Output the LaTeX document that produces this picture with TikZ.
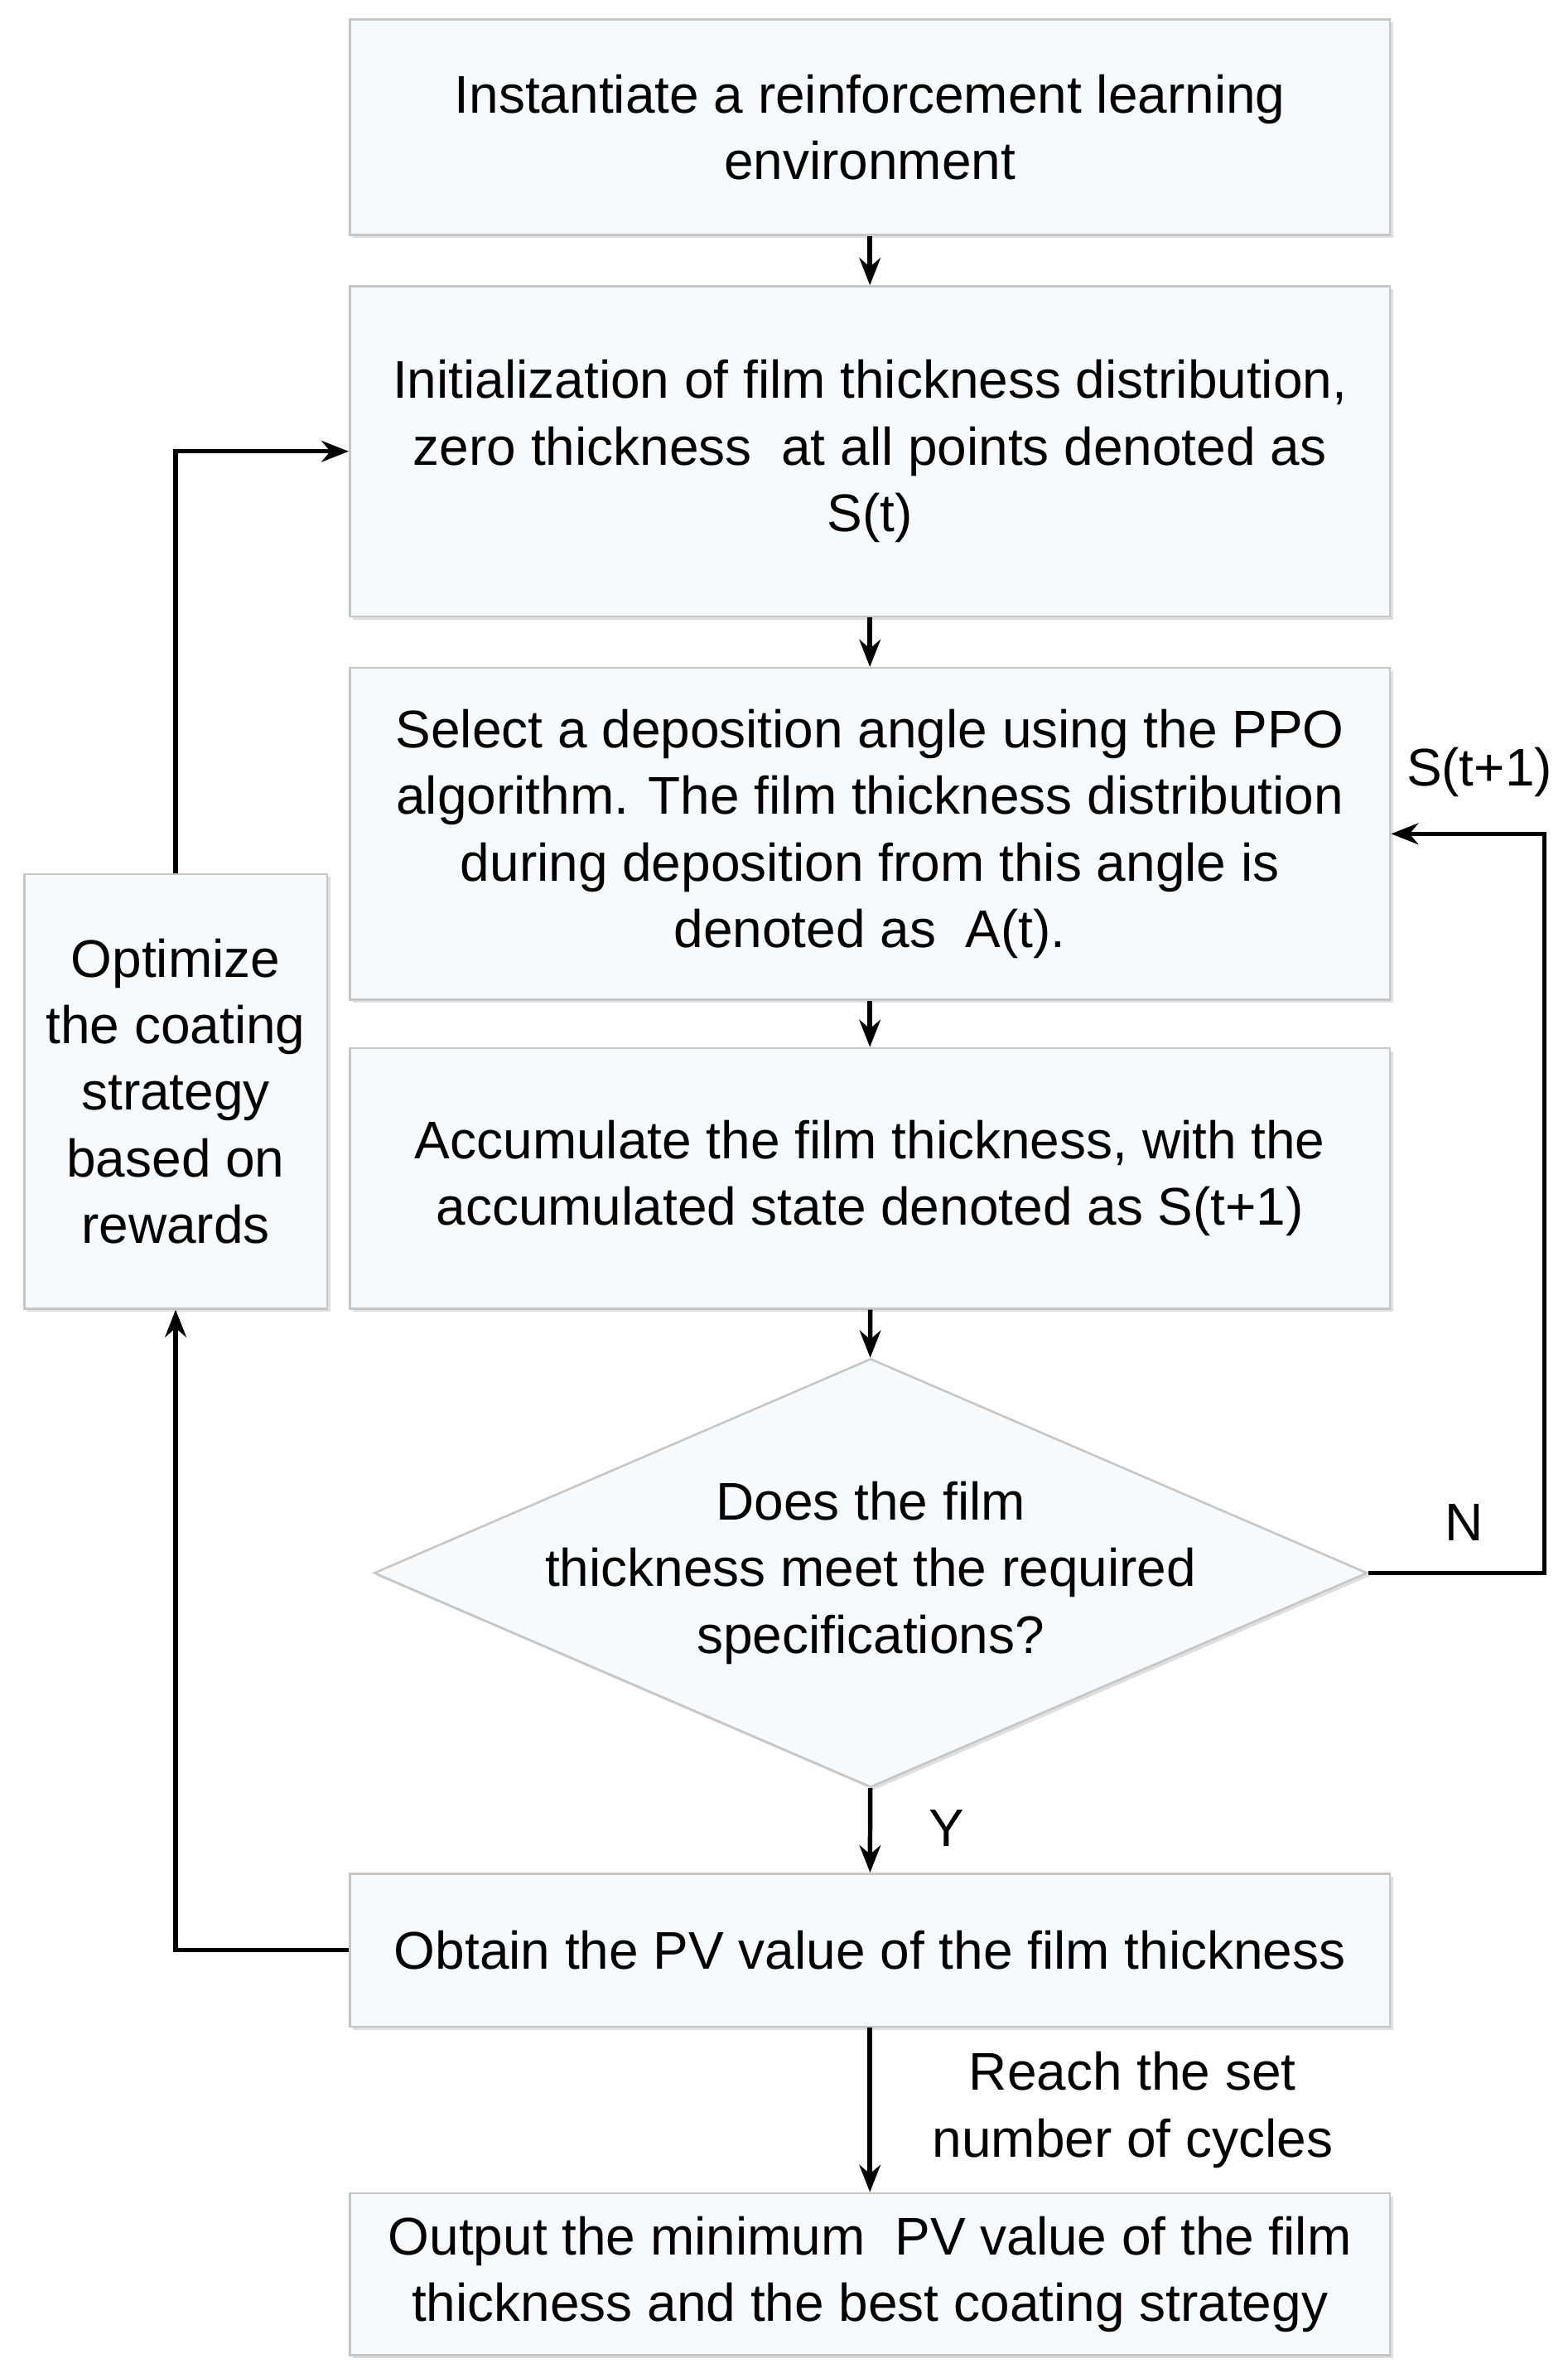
\documentclass[tikz,border=0pt]{standalone}
\usepackage{fontspec}
\setmainfont{Liberation Sans}
\usetikzlibrary{shapes.geometric,arrows.meta,shadows}
\definecolor{boxfill}{HTML}{F7FAFC}
\begin{document}
\begin{tikzpicture}[x=1pt,y=-1pt,
  box/.style={draw=gray!45,fill=boxfill,line width=1.4pt,drop shadow={shadow xshift=2pt,shadow yshift=-2pt,opacity=0.25},align=center,font=\fontsize{35}{44}\selectfont,inner sep=2pt},
  arr/.style={-{Stealth[length=18pt,width=14pt]},line width=3pt},
  lab/.style={font=\fontsize{35}{44}\selectfont,align=center}]
\useasboundingbox (0,0) rectangle (1035,1570);
\node[box,minimum width=687,minimum height=142] (b1) at (574.5,84) {Instantiate a reinforcement learning\\environment};
\node[box,minimum width=687,minimum height=218] (b2) at (574.5,298) {Initialization of film thickness distribution,\\zero thickness\ \ at all points denoted as\\S(t)};
\node[box,minimum width=687,minimum height=219] (b3) at (574.5,550.5) {Select a deposition angle using the PPO\\algorithm. The film thickness distribution\\during deposition from this angle is\\denoted as\ \ A(t).};
\node[box,minimum width=687,minimum height=172] (b4) at (574.5,778) {Accumulate the film thickness, with the\\accumulated state denoted as S(t+1)};
\node[box,diamond,aspect=2.32,minimum width=656,minimum height=283,inner xsep=-18pt,inner ysep=-6pt] (d) at (575,1038.5) {Does the film\\thickness meet the required\\specifications?};
\node[box,minimum width=687,minimum height=101] (b5) at (574.5,1287.5) {Obtain the PV value of the film thickness};
\node[box,minimum width=687,minimum height=107] (b6) at (574.5,1501.5) {Output the minimum\ \ PV value of the film\\thickness and the best coating strategy};
\node[box,minimum width=200,minimum height=287] (L) at (116,720.5) {Optimize\\the coating\\strategy\\based on\\rewards};
\draw[arr] (b1) -- (b2);
\draw[arr] (b2) -- (b3);
\draw[arr] (b3) -- (b4);
\draw[arr] (b4) -- (d);
\draw[arr] (d) -- (b5);
\draw[arr] (b5) -- (b6);
\draw[arr] (L.north) |- (b2.west);
\draw[arr] (b5.west) -| (L.south);
\coordinate (c1) at (1020,1038.5);
\draw[arr] (d.east) -- (c1) |- (b3.east);
\node[lab] (n) at (967,1005) {N};
\node[lab] (s) at (977,510) {S(t+1)};
\node[lab] (y) at (625,1207) {Y};
\node[lab] (r) at (748,1393) {Reach the set\\number of cycles};
\end{tikzpicture}
\end{document}
